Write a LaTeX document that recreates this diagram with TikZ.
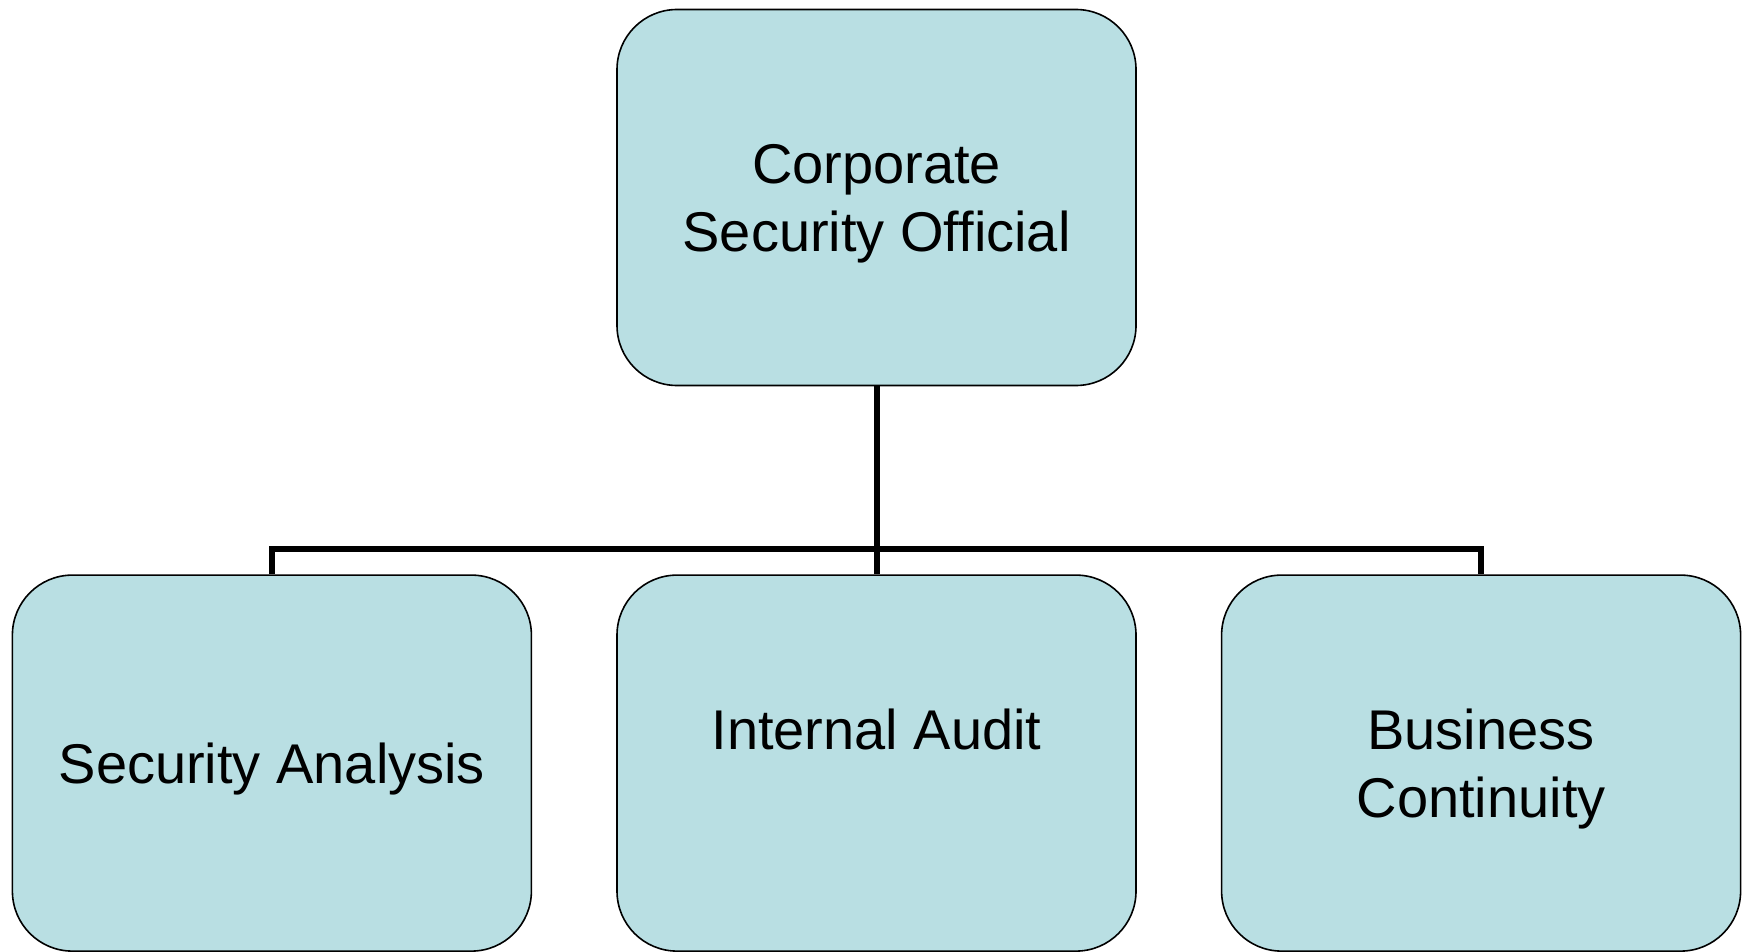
\documentclass[tikz,border=0pt]{standalone}
\usepackage{fontspec}
\setmainfont{Liberation Sans}
\usepackage{tikz}
\usetikzlibrary{positioning,calc}

\definecolor{boxfill}{RGB}{185,223,227}

\begin{document}
\begin{tikzpicture}[x=1pt,y=1pt,node distance=189pt,
		unit node/.style={rectangle, rounded corners=60pt, draw, line width=1.6pt, fill=boxfill,
			minimum width=519pt, minimum height=376pt, align=center, text depth=0pt,
			font=\fontsize{56}{68}\selectfont},
		link/.style={-, line width=6pt}]

	\useasboundingbox (0,0) rectangle (1750,-952);

	\node[unit node] (cso) at (876.5,-197.5) {Corporate \\ Security Official};
	\node[unit node] (ia) [below = 188pt of cso] {Internal Audit\\\phantom{Continuity}};
	\node[unit node] (sa) [left = 84pt of ia] {Security Analysis};
	\node[unit node] (bc) [right = 84pt of ia] {Business \\ Continuity};
	\coordinate (bus) at ($(ia.north)+(0,25pt)$);

		\draw[link] (cso.south) -- (bus);
		\draw[link] (ia.north) -- (bus);
		\draw[link, line join=miter] (sa.north) |- (bus) -| (bc.north);
\end{tikzpicture}
\end{document}
